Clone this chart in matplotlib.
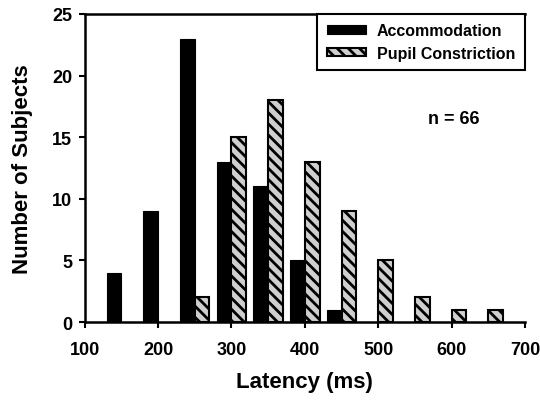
import matplotlib
matplotlib.use("Agg")
import matplotlib.pyplot as plt
import numpy as np

# Data
bins = [150, 200, 250, 300, 350, 400, 450, 500, 550, 600, 650]
accommodation = [4, 9, 23, 13, 11, 5, 1, 0, 0, 0, 0]
pupil = [0, 0, 2, 15, 18, 13, 9, 5, 2, 1, 1]
xticks = [100, 200, 300, 400, 500, 600, 700]
yticks = [0, 5, 10, 15, 20, 25]

plt.rcParams['font.family'] = ['Liberation Sans', 'DejaVu Sans']
plt.rcParams['font.weight'] = 'bold'
plt.rcParams['hatch.linewidth'] = 2.0

fig = plt.figure(figsize=(5.4, 4.02), dpi=100)
ax = fig.add_axes([0.157, 0.1965, 0.815, 0.7665])

bw = 20
b = np.array(bins)
acc = np.array(accommodation)
pup = np.array(pupil)
ma = acc > 0
mp = pup > 0
ax.bar(b[ma] - bw / 2, acc[ma], width=bw, color='black', edgecolor='black',
       linewidth=0.8, label='Accommodation')
ax.bar(b[mp] + bw / 2, pup[mp], width=bw, color='#cfcfcf', edgecolor='black',
       linewidth=1.5, hatch='\\\\\\', label='Pupil Constriction')

ax.set_xlim(100, 700)
ax.set_ylim(0, 25)
ax.set_xticks(xticks)
ax.set_yticks(yticks)
ax.tick_params(axis='both', direction='out', length=4, width=1.5,
               labelsize=13)
ax.tick_params(axis='x', pad=10)
ax.tick_params(axis='y', pad=5)
for lab in ax.get_xticklabels() + ax.get_yticklabels():
    lab.set_fontweight('bold')

for s in ['left', 'bottom', 'top']:
    ax.spines[s].set_linewidth(1.8)
ax.spines['right'].set_visible(False)

ax.set_xlabel('Latency (ms)', fontsize=16, fontweight='bold', labelpad=9)
ax.set_ylabel('Number of Subjects', fontsize=16, fontweight='bold', labelpad=14)

ax.text(603, 16.5, 'n = 66', fontsize=13, fontweight='bold',
        ha='center', va='center')

leg = ax.legend(loc='upper right', bbox_to_anchor=(1.0, 1.0), borderaxespad=0,
                fancybox=False, framealpha=1, edgecolor='black',
                prop={'size': 11.5, 'weight': 'bold'}, handlelength=2.45,
                handleheight=0.45, handletextpad=0.7, labelspacing=0.45,
                borderpad=0.6)
leg.get_frame().set_linewidth(1.5)

fig.savefig('out.png', dpi=100)
